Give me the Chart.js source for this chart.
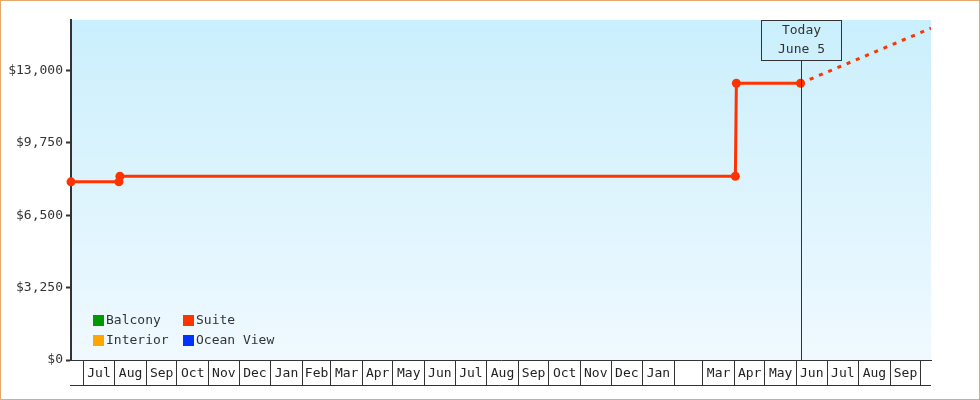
<!DOCTYPE html>
<html><head><meta charset="utf-8">
<script src="https://cdn.jsdelivr.net/npm/chart.js@4/dist/chart.umd.min.js"></script>
<style>html,body{margin:0;padding:0;background:#fff;overflow:hidden}canvas{display:block}</style>
</head><body>
<canvas id="c" width="980" height="400"></canvas>
<script>
// ---- data ----
const axisStart = '2013-06-19';
const axisEnd = '2015-10-11';
const firstMonth = [2013, 6]; // July 2013 (0-based month)
const monthLabels = ['Jul','Aug','Sep','Oct','Nov','Dec','Jan','Feb','Mar','Apr','May','Jun',
                     'Jul','Aug','Sep','Oct','Nov','Dec','Jan','','Mar','Apr','May','Jun',
                     'Jul','Aug','Sep'];
const yTicks = [0, 3250, 6500, 9750, 13000];
const yMax = 15270;
const suiteDates = ['2013-06-19','2013-08-05','2013-08-06','2015-04-02','2015-04-03','2015-06-05'];
const suitePrices = [8000, 8000, 8250, 8250, 12430, 12430];
const forecastDates = ['2015-06-05','2015-10-11'];
const forecastPrices = [12430, 14900];
const legendNames = ['Balcony','Suite','Interior','Ocean View'];
const legendColors = ['#009900','#ff3300','#ffa500','#0033ff'];
const todayDate = '2015-06-05';
const todayText = ['Today','June 5'];

// ---- helpers ----
const DAY = 86400000;
const base = Date.parse(axisStart + 'T00:00:00Z');
const dayNum = s => (Date.parse(s + 'T00:00:00Z') - base) / DAY;
const bounds = [];
for (let i = 0; i <= monthLabels.length; i++) {
  bounds.push((Date.UTC(firstMonth[0], firstMonth[1] + i, 1) - base) / DAY);
}
const xTickObjs = [];
bounds.forEach((b, i) => {
  xTickObjs.push({value: b, lbl: '', mid: false});
  if (i < monthLabels.length) xTickObjs.push({value: (b + bounds[i + 1]) / 2, lbl: monthLabels[i], mid: true});
});
const mono = "'DejaVu Sans Mono', monospace";
const ink = '#333333';

const suiteColor = legendColors[legendNames.indexOf('Suite')];
const datasets = legendNames.map((n, i) => ({
  label: n,
  data: n === 'Suite' ? suiteDates.map((d, j) => ({x: dayNum(d), y: suitePrices[j]})) : [],
  borderColor: legendColors[i],
  backgroundColor: legendColors[i],
  borderWidth: 3,
  pointRadius: 4.5,
  pointBorderWidth: 0,
  pointBackgroundColor: legendColors[i],
  clip: false,
  inLegend: true
}));
datasets.push({
  label: 'Suite forecast',
  data: forecastDates.map((d, j) => ({x: dayNum(d), y: forecastPrices[j]})),
  borderColor: suiteColor,
  borderWidth: 3,
  borderDash: [4, 6],
  pointRadius: 0,
  inLegend: false
});

// ---- plugins ----
const bgPlugin = {
  id: 'bg',
  beforeDraw(chart) {
    const {ctx, chartArea: a} = chart;
    ctx.save();
    ctx.fillStyle = '#fff';
    ctx.fillRect(0, 0, chart.width, chart.height);
    const g = ctx.createLinearGradient(0, a.top, 0, a.bottom);
    g.addColorStop(0, '#caeffc');
    g.addColorStop(1, '#f0f9ff');
    ctx.fillStyle = g;
    ctx.fillRect(a.left, a.top, a.right - a.left, a.bottom - a.top);
    ctx.restore();
  }
};
const framePlugin = {
  id: 'frame',
  afterDraw(chart) {
    const {ctx, chartArea: a} = chart;
    const xs = chart.scales.x;
    ctx.save();
    ctx.strokeStyle = ink;
    ctx.lineWidth = 1;
    ctx.beginPath();
    const yb = Math.round(xs.top + 25) + 0.5;
    ctx.moveTo(a.left - 1, yb);
    ctx.lineTo(a.right, yb);
    ctx.stroke();
    ctx.strokeStyle = '#e4aa6c';
    ctx.strokeRect(0.5, 0.5, chart.width - 1, chart.height - 1);
    ctx.restore();
  }
};
const todayPlugin = {
  id: 'today',
  afterDatasetsDraw(chart) {
    const {ctx, chartArea: a} = chart;
    const x = Math.round(chart.scales.x.getPixelForValue(dayNum(todayDate))) + 0.5;
    const bw = 80, bh = 40, top = a.top + 0.5;
    ctx.save();
    ctx.strokeStyle = ink;
    ctx.lineWidth = 1;
    ctx.beginPath();
    ctx.moveTo(x, top + bh);
    ctx.lineTo(x, a.bottom);
    ctx.stroke();
    ctx.strokeRect(x - bw / 2, top, bw, bh);
    ctx.fillStyle = ink;
    ctx.font = '13px ' + mono;
    ctx.textAlign = 'center';
    ctx.textBaseline = 'middle';
    ctx.fillText(todayText[0], x, a.top + 11);
    ctx.fillText(todayText[1], x, a.top + 30);
    ctx.restore();
  }
};
const legendPlugin = {
  id: 'inlegend',
  afterDraw(chart) {
    const {ctx, chartArea: a} = chart;
    const items = chart.data.datasets.filter(d => d.inLegend);
    ctx.save();
    ctx.font = '13px ' + mono;
    ctx.textBaseline = 'middle';
    ctx.textAlign = 'left';
    items.forEach((d, i) => {
      const col = i % 2, row = Math.floor(i / 2);
      const x = a.left + 22 + col * 90;
      const y = a.bottom - 45 + row * 20;
      ctx.fillStyle = d.borderColor;
      ctx.fillRect(x, y, 11, 11);
      ctx.fillStyle = ink;
      ctx.fillText(d.label, x + 13, y + 6);
    });
    ctx.restore();
  }
};

new Chart(document.getElementById('c'), {
  type: 'line',
  data: {datasets},
  options: {
    responsive: false,
    animation: false,
    events: [],
    layout: {padding: {left: 0, top: 20, right: 49, bottom: 0}},
    plugins: {legend: {display: false}, tooltip: {enabled: false}, title: {display: false}},
    scales: {
      x: {
        type: 'linear',
        min: 0,
        max: dayNum(axisEnd),
        afterBuildTicks: s => { s.ticks = xTickObjs.map(t => ({value: t.value, lbl: t.lbl, mid: t.mid})); },
        afterFit: s => { s.height = 40; },
        ticks: {
          autoSkip: false, maxRotation: 0, minRotation: 0, padding: -19,
          color: '#222', font: {family: mono, size: 13},
          callback: (v, i, t) => (t[i] && t[i].lbl) || ''
        },
        grid: {
          drawOnChartArea: false, tickLength: 25, lineWidth: 1,
          color: c => (c.tick && c.tick.mid) ? 'rgba(0,0,0,0)' : ink
        },
        border: {color: ink, width: 1}
      },
      y: {
        min: 0,
        max: yMax,
        afterBuildTicks: s => { s.ticks = yTicks.map(v => ({value: v})); },
        afterFit: s => { s.width = 71; },
        ticks: {
          padding: 3, color: ink, font: {family: mono, size: 13},
          callback: v => '$' + Number(v).toLocaleString('en-US')
        },
        grid: {drawOnChartArea: false, tickLength: 5, tickWidth: 2, color: ink},
        border: {color: ink, width: 2}
      }
    }
  },
  plugins: [bgPlugin, todayPlugin, legendPlugin, framePlugin]
});
</script>
</body></html>
